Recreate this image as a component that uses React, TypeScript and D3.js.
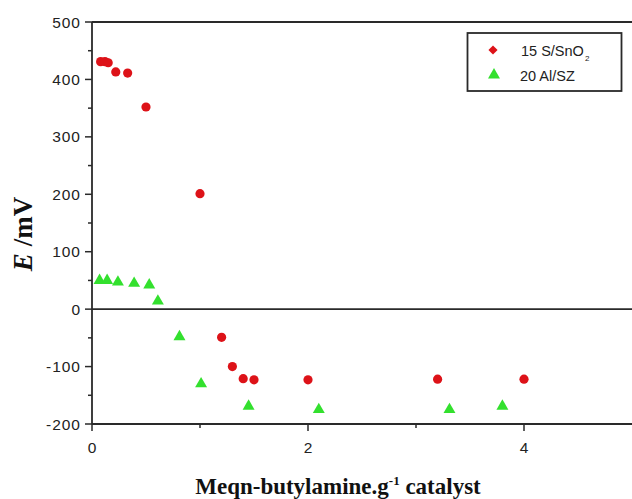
import React from "react";
import * as d3 from "d3";

// 15 S/SnO2 titration points (meq n-butylamine per g, electrode potential mV)
const snX = [0.08, 0.12, 0.15, 0.22, 0.33, 0.5, 1.0, 1.2, 1.3, 1.4, 1.5, 2.0, 3.2, 4.0];
const snE = [431, 431, 429, 413, 411, 352, 201, -49, -100, -121, -123, -123, -122, -122];

// 20 Al/SZ titration points
const alX = [0.07, 0.14, 0.24, 0.39, 0.53, 0.61, 0.81, 1.01, 1.45, 2.1, 3.31, 3.8];
const alE = [50, 50, 47, 45, 42, 14, -48, -130, -169, -175, -175, -169];

const yTicks = [-200, -100, 0, 100, 200, 300, 400, 500];
const yMinor = [-150, -50, 50, 150, 250, 350, 450];
const xTicks = [0, 2, 4];
const xMinor = [1, 3];

const W = 632;
const H = 499;
const left = 92;
const right = 632;
const top = 22;
const bottom = 424;

export default function App() {
  const x = d3.scaleLinear().domain([0, 5]).range([left, right]);
  const y = d3.scaleLinear().domain([-200, 500]).range([bottom, top]);
  const axisColor = "#2a2a2a";
  const red = "#dd1218";
  const green = "#33e02e";
  const tri = d3.symbol().type(d3.symbolTriangle).size(62);
  const diamond = d3.symbol().type(d3.symbolSquare).size(42);

  return (
    <svg
      width={W}
      height={H}
      style={{ position: "absolute", left: 0, top: 0, background: "#fff" }}
      fontFamily="'Liberation Sans', Arial, sans-serif"
    >
      {/* frame lines */}
      <line x1={left} x2={right} y1={top} y2={top} stroke={axisColor} strokeWidth={1.8} />
      <line x1={left} x2={right} y1={bottom} y2={bottom} stroke={axisColor} strokeWidth={1.8} />
      <line x1={left} x2={left} y1={top} y2={bottom} stroke={axisColor} strokeWidth={1.8} />
      <line x1={left} x2={right} y1={y(0)} y2={y(0)} stroke={axisColor} strokeWidth={1.8} />

      {/* y ticks */}
      {yTicks.map((t) => (
        <g key={"yt" + t}>
          <line x1={left - 7} x2={left} y1={y(t)} y2={y(t)} stroke={axisColor} strokeWidth={1.5} />
          <text
            x={left - 11}
            y={y(t)}
            dy="0.36em"
            textAnchor="end"
            fontSize={15.5}
            letterSpacing={1}
            fill="#222"
          >
            {t}
          </text>
        </g>
      ))}
      {yMinor.map((t) => (
        <line key={"ym" + t} x1={left - 4} x2={left} y1={y(t)} y2={y(t)} stroke={axisColor} strokeWidth={1.5} />
      ))}

      {/* x ticks */}
      {xTicks.map((t) => (
        <g key={"xt" + t}>
          <line x1={x(t)} x2={x(t)} y1={bottom} y2={bottom + 7} stroke={axisColor} strokeWidth={1.5} />
          <text x={x(t)} y={bottom + 29} textAnchor="middle" fontSize={15.5} fill="#222">
            {t}
          </text>
        </g>
      ))}
      {xMinor.map((t) => (
        <line key={"xm" + t} x1={x(t)} x2={x(t)} y1={bottom} y2={bottom + 4} stroke={axisColor} strokeWidth={1.5} />
      ))}

      {/* axis titles */}
      <text
        x={338}
        y={494}
        textAnchor="middle"
        fontFamily="'Liberation Serif', 'Times New Roman', serif"
        fontWeight="bold"
        fontSize={23}
        fill="#111"
      >
        Meqn-butylamine.g
        <tspan dy={-9} fontSize={13}>-1</tspan>
        <tspan dy={9}> catalyst</tspan>
      </text>
      <text
        transform={`translate(32, 234) rotate(-90)`}
        textAnchor="middle"
        fontFamily="'Liberation Serif', 'Times New Roman', serif"
        fontWeight="bold"
        fontSize={27}
        fill="#111"
      >
        <tspan fontStyle="italic">E</tspan>
        <tspan> /mV</tspan>
      </text>

      {/* series markers */}
      {alX.map((v, i) => (
        <path
          key={"al" + i}
          d={tri() as string}
          transform={`translate(${x(v)}, ${y(alE[i])})`}
          fill={green}
        />
      ))}
      {snX.map((v, i) => (
        <circle key={"sn" + i} cx={x(v)} cy={y(snE[i])} r={4.6} fill={red} />
      ))}

      {/* legend */}
      <rect x={467.5} y={33} width={154} height={58} fill="#fff" stroke={axisColor} strokeWidth={1.8} />
      <path d={diamond() as string} transform="translate(493, 50) rotate(45)" fill={red} />
      <text x={521} y={56} fontSize={14.5} fill="#222">
        15 S/SnO
        <tspan dx={1} dy={5} fontSize={8}>2</tspan>
      </text>
      <path d={tri() as string} transform="translate(494, 75)" fill={green} />
      <text x={520} y={81} fontSize={14.5} fill="#222">
        20 Al/SZ
      </text>
    </svg>
  );
}
